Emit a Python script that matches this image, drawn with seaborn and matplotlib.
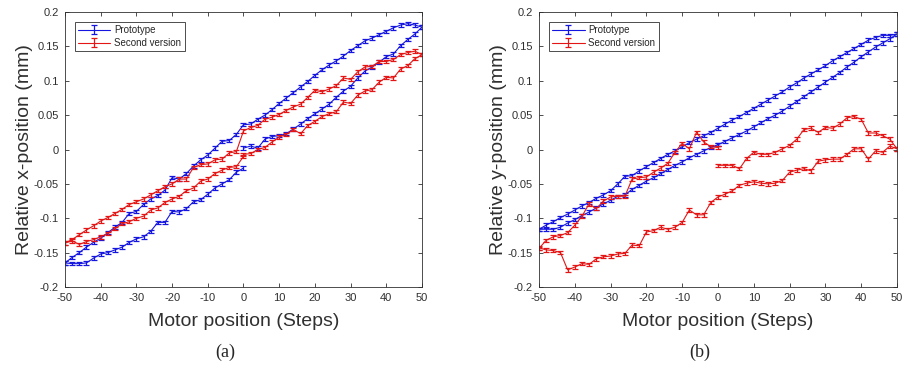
import seaborn as sns
import matplotlib.pyplot as plt

# posiciones del motor: 0 -> 50 -> -50 -> 0 (pasos de 2)
pos_up = list(range(0, 51, 2))
pos_back = list(range(50, -51, -2))
pos_ret = list(range(-50, 1, 2))

x_ticks = [-50, -40, -30, -20, -10, 0, 10, 20, 30, 40, 50]
y_ticks = [-0.2, -0.15, -0.1, -0.05, 0, 0.05, 0.1, 0.15, 0.2]
y_tick_labels = ["-0.2", "-0.15", "-0.1", "-0.05", "0", "0.05", "0.1", "0.15", "0.2"]
series_names = ["Prototype", "Second version"]
err = 0.0025

# ---- (a) posicion x ----
# tramo 0 -> 50
a_proto_up = [0.002, 0.005, 0.002, 0.015, 0.019, 0.020, 0.023, 0.030, 0.037, 0.045, 0.052, 0.059,
              0.066, 0.076, 0.085, 0.092, 0.104, 0.114, 0.120, 0.127, 0.135, 0.139, 0.151, 0.160,
              0.168, 0.178]
# tramo de vuelta, listado de -50 a 50
a_proto_back = [-0.165, -0.157, -0.150, -0.142, -0.135, -0.129, -0.121, -0.113, -0.106, -0.093,
                -0.090, -0.080, -0.072, -0.067, -0.059, -0.041, -0.043, -0.035, -0.024, -0.015,
                -0.008, 0.002, 0.012, 0.013, 0.022, 0.036, 0.037, 0.044, 0.050, 0.058, 0.067,
                0.075, 0.083, 0.091, 0.099, 0.108, 0.116, 0.123, 0.129, 0.136, 0.144, 0.151,
                0.158, 0.162, 0.167, 0.172, 0.177, 0.181, 0.183, 0.181, 0.178]
# tramo -50 -> 0
a_proto_ret = [-0.165, -0.166, -0.166, -0.165, -0.158, -0.152, -0.150, -0.146, -0.142, -0.135,
               -0.130, -0.127, -0.119, -0.106, -0.106, -0.090, -0.091, -0.086, -0.076, -0.073,
               -0.065, -0.056, -0.050, -0.044, -0.033, -0.027]

a_second_up = [-0.007, -0.006, 0.000, 0.003, 0.011, 0.018, 0.022, 0.029, 0.023, 0.035, 0.041,
               0.048, 0.052, 0.055, 0.069, 0.067, 0.079, 0.085, 0.087, 0.098, 0.105, 0.104,
               0.117, 0.122, 0.132, 0.138]
a_second_back = [-0.136, -0.131, -0.124, -0.117, -0.111, -0.104, -0.099, -0.093, -0.087, -0.080,
                 -0.076, -0.072, -0.066, -0.060, -0.054, -0.050, -0.043, -0.043, -0.026, -0.022,
                 -0.021, -0.015, -0.014, -0.005, -0.003, 0.027, 0.032, 0.035, 0.044, 0.047,
                 0.051, 0.057, 0.062, 0.066, 0.076, 0.086, 0.084, 0.088, 0.093, 0.104, 0.102,
                 0.113, 0.120, 0.121, 0.128, 0.128, 0.131, 0.138, 0.141, 0.143, 0.138]
a_second_ret = [-0.136, -0.133, -0.138, -0.134, -0.131, -0.127, -0.122, -0.115, -0.108, -0.105,
                -0.100, -0.097, -0.088, -0.085, -0.077, -0.072, -0.068, -0.060, -0.056, -0.046,
                -0.043, -0.035, -0.030, -0.026, -0.025, -0.010]

# ---- (b) posicion y ----
b_proto_up = [0.007, 0.012, 0.017, 0.022, 0.027, 0.033, 0.039, 0.045, 0.050, 0.056, 0.063, 0.070,
              0.077, 0.084, 0.091, 0.098, 0.105, 0.112, 0.120, 0.127, 0.135, 0.142, 0.149, 0.155,
              0.161, 0.168]
b_proto_back = [-0.116, -0.110, -0.105, -0.099, -0.094, -0.088, -0.082, -0.077, -0.071, -0.066,
                -0.060, -0.050, -0.039, -0.038, -0.031, -0.025, -0.019, -0.013, -0.007, -0.002,
                0.004, 0.010, 0.015, 0.020, 0.025, 0.031, 0.037, 0.043, 0.048, 0.054, 0.060,
                0.066, 0.072, 0.078, 0.084, 0.091, 0.097, 0.104, 0.110, 0.116, 0.122, 0.129,
                0.135, 0.141, 0.147, 0.153, 0.159, 0.163, 0.166, 0.166, 0.168]
b_proto_ret = [-0.116, -0.116, -0.116, -0.113, -0.107, -0.102, -0.096, -0.091, -0.085, -0.079,
               -0.074, -0.068, -0.066, -0.058, -0.052, -0.046, -0.041, -0.035, -0.029, -0.023,
               -0.018, -0.012, -0.007, -0.002, 0.003, 0.007]

b_second_up = [-0.023, -0.023, -0.023, -0.028, -0.013, -0.004, -0.007, -0.007, -0.004, 0.001,
               0.006, 0.015, 0.029, 0.031, 0.025, 0.032, 0.031, 0.037, 0.046, 0.048, 0.044,
               0.024, 0.024, 0.020, 0.015, 0.001]
b_second_back = [-0.143, -0.146, -0.147, -0.150, -0.175, -0.171, -0.166, -0.167, -0.159, -0.156,
                 -0.155, -0.152, -0.151, -0.139, -0.140, -0.120, -0.118, -0.113, -0.116, -0.113,
                 -0.106, -0.088, -0.095, -0.095, -0.077, -0.069, -0.065, -0.060, -0.052, -0.049,
                 -0.047, -0.049, -0.050, -0.049, -0.045, -0.033, -0.030, -0.028, -0.031, -0.017,
                 -0.015, -0.014, -0.014, -0.007, 0.001, 0.001, -0.014, -0.002, -0.004, 0.005, 0.001]
b_second_ret = [-0.144, -0.132, -0.127, -0.125, -0.121, -0.110, -0.097, -0.079, -0.086, -0.075,
                -0.069, -0.068, -0.068, -0.043, -0.041, -0.040, -0.033, -0.027, -0.020, -0.004,
                0.009, 0.001, 0.025, 0.011, 0.004, 0.003]

paneles = [
    ("Relative x-position (mm)", "(a)",
     [(a_proto_up, a_proto_back, a_proto_ret), (a_second_up, a_second_back, a_second_ret)]),
    ("Relative y-position (mm)", "(b)",
     [(b_proto_up, b_proto_back, b_proto_ret), (b_second_up, b_second_back, b_second_ret)]),
]
colores = ["#1515e0", "#e31515"]

sns.set_style("white")
plt.rcParams["font.family"] = ["Liberation Sans", "DejaVu Sans"]
plt.rcParams["axes.unicode_minus"] = False

fig = plt.figure(figsize=(9.03, 3.69), dpi=100)
ejes = [fig.add_axes([65 / 903, 82 / 369, 357 / 903, 275 / 369]),
        fig.add_axes([539 / 903, 82 / 369, 358 / 903, 275 / 369])]
gris = "#303030"

for ax, (ylab, letra, datos) in zip(ejes, paneles):
    handles = []
    for (up, back, ret), color in zip(datos, colores):
        xs = pos_up + pos_back + pos_ret
        ys = up + back[::-1] + ret
        sns.lineplot(x=xs, y=ys, sort=False, estimator=None, color=color, lw=0.8, ax=ax)
        linea = ax.lines[-1]
        eb = ax.errorbar(xs, ys, yerr=err, fmt="none", ecolor=color, elinewidth=0.9,
                         capsize=2.2, capthick=0.9)
        handles.append((linea, eb))

    ax.set_xlim(-50, 50)
    ax.set_ylim(-0.2, 0.2)
    ax.set_xticks(x_ticks)
    ax.set_xticklabels([str(t) for t in x_ticks])
    ax.set_yticks(y_ticks)
    ax.set_yticklabels(y_tick_labels)
    ax.tick_params(direction="in", top=True, right=True, bottom=True, left=True,
                   length=3, width=0.6, color=gris, labelcolor=gris, labelsize=8, pad=4.5)
    for sp in ax.spines.values():
        sp.set_color(gris)
        sp.set_linewidth(0.6)

    ax.set_xlabel("Motor position (Steps)", fontsize=14, color=gris, labelpad=7)
    ax.set_ylabel(ylab, fontsize=14, color=gris)
    ax.yaxis.set_label_coords(-0.09, 0.5)

    leg = ax.legend(handles, series_names, loc="upper left", bbox_to_anchor=(0.028, 0.965),
                    borderaxespad=0, fontsize=7, handlelength=3.3, handletextpad=0.4,
                    fancybox=False, framealpha=1, edgecolor=gris, borderpad=0.35,
                    labelspacing=0.3)
    leg.get_frame().set_linewidth(0.6)

    x0 = ax.get_position().x0 + ax.get_position().width / 2
    fig.text(x0 - 0.02, 1 - 352 / 369, letra, ha="center", va="center", fontsize=13,
             family=["Liberation Serif", "DejaVu Serif"])

plt.savefig("out.png", dpi=100)
